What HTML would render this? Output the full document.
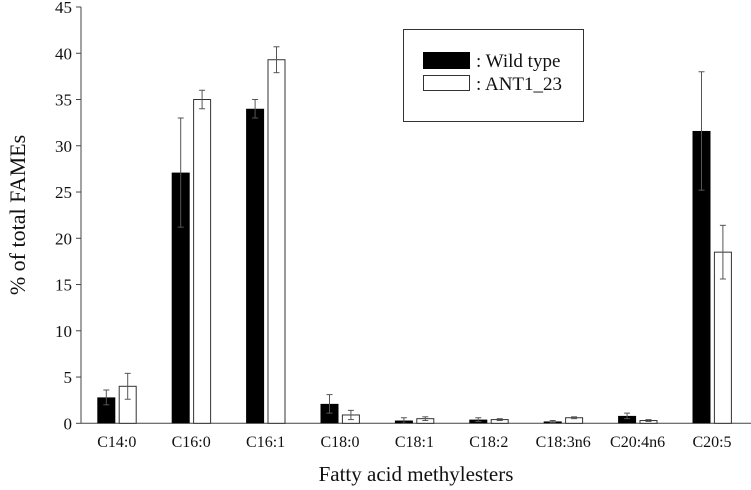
<!DOCTYPE html>
<html><head><meta charset="utf-8"><style>
html,body{margin:0;padding:0;background:#fff;}
svg{display:block;font-family:"Liberation Serif",serif;}
</style></head><body>
<svg id="chart" width="751" height="490"></svg>
<script>
const categories=["C14:0","C16:0","C16:1","C18:0","C18:1","C18:2","C18:3n6","C20:4n6","C20:5"];
const wildType=[2.8,27.1,34.0,2.1,0.3,0.4,0.2,0.8,31.6];
const wildErr=[0.8,5.9,1.0,1.0,0.3,0.2,0.1,0.3,6.4];
const ant1=[4.0,35.0,39.3,0.9,0.5,0.4,0.6,0.3,18.5];
const antErr=[1.4,1.0,1.4,0.5,0.2,0.1,0.1,0.1,2.9];
const yTicks=[0,5,10,15,20,25,30,35,40,45];

const svg=document.getElementById('chart');
const NS='http://www.w3.org/2000/svg';
const y0=423.3, pxPer=(423.3-7)/45;
const yS=v=>y0-v*pxPer;
const xS=i=>97.3+i*74.4;
const bw=18;
function mk(tag,attrs,parent){const e=document.createElementNS(NS,tag);for(const k in attrs)e.setAttribute(k,attrs[k]);(parent||svg).appendChild(e);return e;}

const ax=mk('g',{});


mk('line',{x1:81,y1:yS(45),x2:81,y2:y0,stroke:'#444','stroke-width':1},ax);
mk('line',{x1:81,y1:y0,x2:751,y2:y0,stroke:'#444','stroke-width':1},ax);
yTicks.forEach(t=>{
  mk('line',{x1:76,y1:yS(t),x2:81,y2:yS(t),stroke:'#444'},ax);
  const tx=mk('text',{x:72,y:yS(t)+6,'text-anchor':'end','font-size':17,fill:'#111'},ax);
  tx.textContent=t;
  
  
});
categories.forEach((c,i)=>{
  const tx=mk('text',{x:xS(i)+19.5,y:447,'text-anchor':'middle','font-size':16,fill:'#111'},ax);
  tx.textContent=c;
  
  
});
const yt=mk('text',{x:0,y:0,transform:'translate(25,215) rotate(-90)','text-anchor':'middle','font-size':22,fill:'#111'});
yt.textContent='% of total FAMEs';


const xt=mk('text',{x:416,y:481,'text-anchor':'middle','font-size':21,fill:'#111'});
xt.textContent='Fatty acid methylesters';



function errBar(x,v,e){
  const g=mk('g',{stroke:'#555','stroke-width':1});
  
  
  mk('line',{x1:x,x2:x,y1:yS(v+e),y2:yS(Math.max(0,v-e))},g);
  mk('line',{x1:x-3,x2:x+3,y1:yS(v+e),y2:yS(v+e)},g);
  mk('line',{x1:x-3,x2:x+3,y1:yS(Math.max(0,v-e)),y2:yS(Math.max(0,v-e))},g);
}
categories.forEach((c,i)=>{
  const x=xS(i);
  const b1=mk('rect',{x:x,y:yS(wildType[i]),width:bw,height:y0-yS(wildType[i]),fill:'#000'});
  
  
  const b2=mk('rect',{x:x+21.4+0.5,y:yS(ant1[i]),width:bw-1,height:y0-yS(ant1[i]),fill:'#fff',stroke:'#333','stroke-width':1});
  
  
  errBar(x+bw/2,wildType[i],wildErr[i]);
  errBar(x+21.4+bw/2,ant1[i],antErr[i]);
});

const lg=mk('g',{});


mk('rect',{x:403.5,y:29.5,width:180,height:92,fill:'#fff',stroke:'#333','stroke-width':1},lg);
mk('rect',{x:423,y:52,width:47,height:17,fill:'#000'},lg);
mk('rect',{x:423.5,y:75.5,width:46,height:15,fill:'#fff',stroke:'#333'},lg);
const l1=mk('text',{x:476,y:67,'font-size':19,fill:'#111'},lg);
l1.textContent=': Wild type';


const l2=mk('text',{x:476,y:90,'font-size':19,fill:'#111'},lg);
l2.textContent=': ANT1_23';


</script>
</body></html>
